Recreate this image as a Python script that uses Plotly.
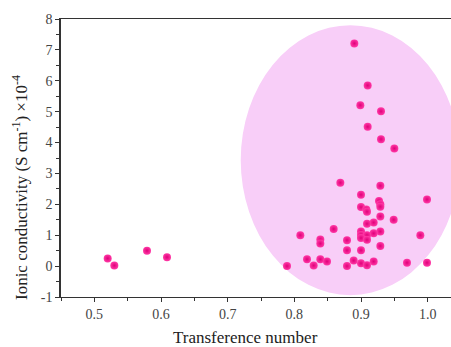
import plotly.graph_objects as go

# Data
transference = [0.520, 0.530, 0.579, 0.609,
                0.890, 0.910, 0.899, 0.930, 0.910, 0.930, 0.950,
                0.869, 0.929, 0.900, 0.999, 0.927, 0.929, 0.929, 0.900, 0.908, 0.909,
                0.929, 0.949, 0.919, 0.909, 0.859, 0.900, 0.929, 0.919, 0.900, 0.909,
                0.809, 0.989, 0.900, 0.909, 0.879, 0.839, 0.839, 0.929, 0.879, 0.900,
                0.819, 0.839, 0.849, 0.889, 0.919, 0.829, 0.789, 0.879, 0.900, 0.909,
                0.969, 0.999]
conductivity = [0.25, 0.02, 0.50, 0.29,
                7.21, 5.85, 5.21, 5.01, 4.51, 4.11, 3.81,
                2.70, 2.60, 2.31, 2.16, 2.11, 2.00, 1.92, 1.91, 1.83, 1.76,
                1.61, 1.50, 1.41, 1.37, 1.20, 1.12, 1.12, 1.06, 1.01, 1.00,
                1.00, 1.00, 0.91, 0.85, 0.84, 0.86, 0.73, 0.65, 0.51, 0.51,
                0.22, 0.22, 0.15, 0.18, 0.15, 0.02, 0.00, 0.00, 0.09, 0.03,
                0.11, 0.11]

x_ticks = [0.5, 0.6, 0.7, 0.8, 0.9, 1.0]
x_ticktext = ["0.5", "0.6", "0.7", "0.8", "0.9", "1.0"]
y_ticks = [-1, 0, 1, 2, 3, 4, 5, 6, 7, 8]
y_ticktext = ["-1", "0", "1", "2", "3", "4", "5", "6", "7", "8"]

serif = "Liberation Serif, Times New Roman, serif"

fig = go.Figure()
fig.add_trace(go.Scatter(
    x=transference, y=conductivity, mode="markers",
    marker=dict(size=8, color="#ff3aa6",
                gradient=dict(type="radial", color="#e0007a"),
                line=dict(width=0)),
    showlegend=False, cliponaxis=False,
))

fig.add_shape(type="circle", xref="x", yref="y",
              x0=0.7196, x1=1.0485, y0=-0.94, y1=7.80,
              fillcolor="rgb(248,206,248)", line=dict(width=0), layer="below")

fig.update_layout(
    width=451, height=347,
    margin=dict(l=61, r=0, t=19, b=50),
    paper_bgcolor="white", plot_bgcolor="white",
    font=dict(family=serif, color="#444444", size=14),
    xaxis=dict(range=[0.45, 1.035], tickvals=x_ticks, ticktext=x_ticktext,
               showline=True, linecolor="#333333", linewidth=1, mirror=True,
               ticks="outside", ticklen=4, tickcolor="#333333",
               minor=dict(ticks="outside", ticklen=3, dtick=0.05, tick0=0.45, tickcolor="#333333"),
               showgrid=False, zeroline=False, tickfont=dict(family=serif, size=14, color="#444444")),
    yaxis=dict(range=[-1, 8], tickvals=y_ticks, ticktext=y_ticktext,
               showline=True, linecolor="#333333", linewidth=1.5,
               ticks="outside", ticklen=4, tickcolor="#333333",
               minor=dict(ticks="outside", ticklen=3, dtick=0.5, tick0=-1, tickcolor="#333333"),
               showgrid=False, zeroline=False, tickfont=dict(family=serif, size=14, color="#444444")),
    annotations=[
        dict(text="Transference number", xref="paper", yref="paper",
             x=0.474, y=0, yshift=-40, showarrow=False,
             font=dict(family=serif, size=17, color="#222222"), yanchor="middle"),
        dict(text="Ionic conductivity (S cm<sup>-1</sup>) ×10<sup>-4</sup>",
             xref="paper", yref="paper", x=0, xshift=-41, y=0.392,
             textangle=-90, showarrow=False,
             font=dict(family=serif, size=17, color="#222222"),
             xanchor="center", yanchor="middle"),
    ],
)

fig.write_html("out.html")
